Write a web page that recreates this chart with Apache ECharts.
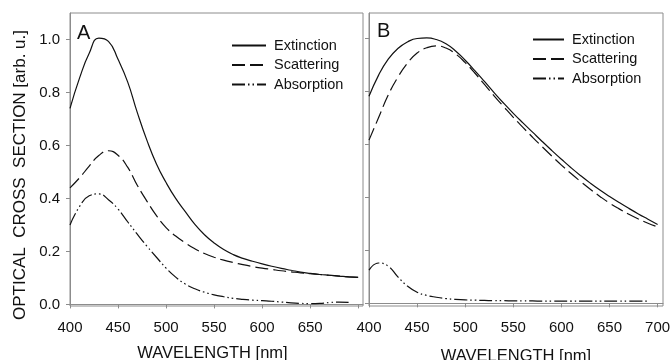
<!DOCTYPE html>
<html>
<head>
<meta charset="utf-8">
<script src="https://cdn.jsdelivr.net/npm/echarts@6/dist/echarts.min.js"></script>
<style>
  html, body {margin: 0; padding: 0; background: #fff;}
  #chart {width: 671px; height: 360px;}
</style>
</head>
<body>
<div id="chart"></div>
<script>
// wavelength grid (nm), shared by every curve
const wavelengths = [400, 410, 420, 430, 440, 450, 460, 470, 480, 490, 500, 510, 520, 530, 540, 550,
  560, 570, 580, 590, 600, 610, 620, 630, 640, 650, 660, 670, 680, 690, 700];

// panel A
const extinctionA = [0.74, 0.855, 0.948, 1.005, 0.993, 0.925, 0.84, 0.725, 0.62, 0.53, 0.46, 0.40, 0.35, 0.302, 0.263, 0.232,
  0.207, 0.188, 0.174, 0.163, 0.153, 0.144, 0.136, 0.129, 0.122, 0.117, 0.113, 0.11, 0.107, 0.104, 0.102];
const scatteringA = [0.44, 0.478, 0.522, 0.562, 0.58, 0.563, 0.518, 0.45, 0.39, 0.335, 0.29, 0.258, 0.232, 0.21, 0.192, 0.178,
  0.167, 0.158, 0.15, 0.143, 0.137, 0.132, 0.127, 0.123, 0.119, 0.116, 0.113, 0.11, 0.107, 0.104, 0.102];
const absorptionA = [0.30, 0.37, 0.41, 0.417, 0.395, 0.36, 0.312, 0.265, 0.22, 0.178, 0.137, 0.103, 0.077, 0.059, 0.046, 0.036,
  0.029, 0.023, 0.019, 0.016, 0.014, 0.012, 0.009, 0.006, 0.004, 0.003, 0.004, 0.007, 0.009, 0.008, null];

// panel B
const extinctionB = [0.78, 0.86, 0.92, 0.96, 0.985, 0.998, 1.0, 0.994, 0.978, 0.951, 0.916, 0.877, 0.836, 0.794, 0.754, 0.716,
  0.68, 0.645, 0.61, 0.576, 0.543, 0.511, 0.481, 0.453, 0.427, 0.403, 0.38, 0.358, 0.337, 0.317, 0.297];
const scatteringB = [0.615, 0.70, 0.785, 0.852, 0.905, 0.943, 0.963, 0.97, 0.962, 0.94, 0.907, 0.868, 0.825, 0.782, 0.741, 0.701,
  0.663, 0.626, 0.59, 0.555, 0.521, 0.489, 0.459, 0.43, 0.403, 0.378, 0.356, 0.336, 0.318, 0.302, 0.288];
const absorptionB = [0.125, 0.152, 0.14, 0.10, 0.065, 0.042, 0.03, 0.023, 0.018, 0.015, 0.013, 0.012, 0.011, 0.01, 0.01, 0.009,
  0.009, 0.009, 0.008, 0.008, 0.008, 0.008, 0.008, 0.008, 0.008, 0.008, 0.008, 0.008, 0.008, 0.008, null];

const seriesNames = ['Extinction', 'Scattering', 'Absorption'];
const xTicks = [400, 450, 500, 550, 600, 650, 700];
const xLabelsA = [400, 450, 500, 550, 600, 650];
const yTicks = [0, 0.2, 0.4, 0.6, 0.8, 1.0];

const FONT = 'Liberation Sans, Arial, sans-serif';
const INK = '#111';
const FRAME = '#8c8c8c';
const NONE = 'rgba(0,0,0,0)';

const dashes = {
  Extinction: 'solid',
  Scattering: [13, 5],
  Absorption: [13, 3, 1.5, 3, 1.5, 3]
};

const pairs = arr => wavelengths.map((w, i) => [w, arr[i]]).filter(p => p[1] !== null);

const chart = echarts.init(document.getElementById('chart'));

const xAxisBase = (labels, nameGap, namePad) => ({
  type: 'value',
  name: 'WAVELENGTH [nm]',
  nameLocation: 'middle',
  nameGap: nameGap,
  nameTextStyle: {fontSize: 16.5, color: INK, fontFamily: FONT, padding: namePad},
  axisLine: {show: true, lineStyle: {color: FRAME, width: 1}},
  axisTick: {show: true, length: 4, lineStyle: {color: FRAME}, customValues: xTicks},
  axisLabel: {fontSize: 15, color: INK, fontFamily: FONT, margin: 14, customValues: labels},
  splitLine: {show: false}
});

const yAxisBase = showLabels => ({
  type: 'value',
  axisLine: {show: true, lineStyle: {color: FRAME, width: 1}},
  axisTick: {show: true, length: 4, lineStyle: {color: FRAME}, customValues: yTicks},
  axisLabel: {
    show: showLabels, fontSize: 15, color: INK, fontFamily: FONT, margin: 10,
    customValues: yTicks,
    formatter: v => v.toFixed(1)
  },
  splitLine: {show: false}
});

const makeSeries = (name, arr, idx) => ({
  name: name,
  type: 'line',
  xAxisIndex: idx,
  yAxisIndex: idx,
  data: pairs(arr),
  showSymbol: false,
  symbol: 'none',
  smooth: 0.5,
  lineStyle: {color: INK, width: 1.2, type: dashes[name]},
  itemStyle: {color: INK},
  emphasis: {disabled: true}
});

const legendBase = (left, top, width) => ({
  data: seriesNames,
  orient: 'vertical',
  left: left,
  top: top,
  padding: 0,
  itemWidth: width,
  itemHeight: 14,
  itemGap: 4.5,
  itemStyle: {color: NONE, borderColor: NONE, borderWidth: 0},
  textStyle: {fontSize: 14.5, color: INK, fontFamily: FONT, padding: [0, 0, 0, 3]},
  selectedMode: false
});

chart.setOption({
  animation: false,
  backgroundColor: '#fff',
  grid: [
    {left: 70, top: 13, width: 293, height: 293, show: true, borderColor: FRAME, borderWidth: 1, outerBoundsMode: 'none'},
    {left: 369, top: 13, width: 294, height: 293, show: true, borderColor: FRAME, borderWidth: 1, outerBoundsMode: 'none'}
  ],
  xAxis: [
    Object.assign(xAxisBase(xLabelsA, 39, [0, 8, 0, 0]), {gridIndex: 0, min: 400, max: 705}),
    Object.assign(xAxisBase(xTicks, 42, 0), {gridIndex: 1, min: 400, max: 705.6})
  ],
  yAxis: [
    Object.assign(yAxisBase(true), {gridIndex: 0, min: -0.006, max: 1.1}),
    Object.assign(yAxisBase(false), {gridIndex: 1, min: -0.010, max: 1.094})
  ],
  legend: [
    legendBase(231, 38, 34),
    legendBase(532, 32, 31)
  ],
  title: [
    {text: 'A', left: 77, top: 23, padding: 0, textStyle: {fontSize: 20, fontWeight: 'normal', color: INK, fontFamily: FONT}},
    {text: 'B', left: 377, top: 21, padding: 0, textStyle: {fontSize: 20, fontWeight: 'normal', color: INK, fontFamily: FONT}}
  ],
  graphic: [{
    type: 'text',
    x: 20,
    y: 175,
    rotation: Math.PI / 2,
    style: {
      text: 'OPTICAL  CROSS  SECTION [arb. u.]',
      fontSize: 17,
      fontFamily: FONT,
      fill: INK,
      align: 'center',
      verticalAlign: 'middle'
    }
  }],
  series: [
    makeSeries('Extinction', extinctionA, 0),
    makeSeries('Scattering', scatteringA, 0),
    makeSeries('Absorption', absorptionA, 0),
    makeSeries('Extinction', extinctionB, 1),
    makeSeries('Scattering', scatteringB, 1),
    makeSeries('Absorption', absorptionB, 1)
  ]
});
</script>
</body>
</html>
